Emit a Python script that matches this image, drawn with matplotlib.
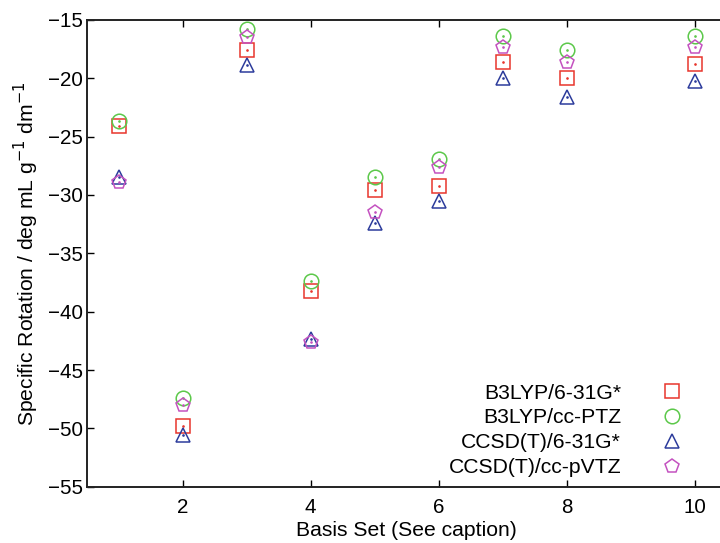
import numpy as np
import matplotlib
matplotlib.use('Agg')
import matplotlib.pyplot as plt

plt.rcParams['font.family'] = ['Liberation Sans', 'DejaVu Sans']

# basis set index (no 9 in the data)
basis = [1, 2, 3, 4, 5, 6, 7, 8, 10]

b3lyp_631g = [-24.1, -49.8, -17.6, -38.2, -29.6, -29.2, -18.6, -20.0, -18.8]
b3lyp_cc = [-23.7, -47.4, -15.8, -37.4, -28.5, -26.9, -16.4, -17.6, -16.4]
ccsd_631g = [-28.5, -50.6, -18.9, -42.3, -32.4, -30.5, -20.0, -21.6, -20.2]
ccsd_cc = [-28.9, -48.0, -16.5, -42.6, -31.5, -27.6, -17.3, -18.6, -17.3]

labels = ['B3LYP/6-31G*', 'B3LYP/cc-PTZ', 'CCSD(T)/6-31G*', 'CCSD(T)/cc-pVTZ']
series = [b3lyp_631g, b3lyp_cc, ccsd_631g, ccsd_cc]
colors = ['#e8352c', '#5cc84a', '#2c3c9c', '#c452c0']
markers = ['s', 'o', '^', 'p']

fig = plt.figure(figsize=(7.2, 5.43), dpi=100)
ax = fig.add_axes([0.1204, 0.1037, 0.889, 0.8595])

for vals, lab, c, m in zip(series, labels, colors, markers):
    ax.plot(basis, vals, linestyle='none', marker=m, markersize=10.5,
            markerfacecolor='none', markeredgecolor=c, markeredgewidth=1.1,
            label=lab)
    # little dot in the middle of each marker
    ax.plot(basis, vals, linestyle='none', marker='.', markersize=1.8,
            color=c)

ax.set_xlim(0.5, 10.5)
ax.set_ylim(-55, -15)
ax.set_xticks([2, 4, 6, 8, 10])
ax.set_yticks(np.arange(-55, -14, 5))
ax.tick_params(direction='in', length=5, width=1, labelsize=14.8,
               top=True, right=True)
ax.tick_params(axis='x', pad=8)
ax.tick_params(axis='y', pad=3)
for s in ax.spines.values():
    s.set_linewidth(1.4)
    s.set_color('#222222')

ax.set_xlabel('Basis Set (See caption)', fontsize=15.2, labelpad=3)
ax.set_ylabel('Specific Rotation / deg mL g$^{-1}$ dm$^{-1}$', fontsize=15.2,
              labelpad=5)

ax.legend(loc='lower right', bbox_to_anchor=(0.947, 0.021), frameon=False,
          markerfirst=False, fontsize=15.2, handletextpad=1.4,
          labelspacing=0.27, borderaxespad=0, borderpad=0)

fig.savefig('out.png', dpi=100)
